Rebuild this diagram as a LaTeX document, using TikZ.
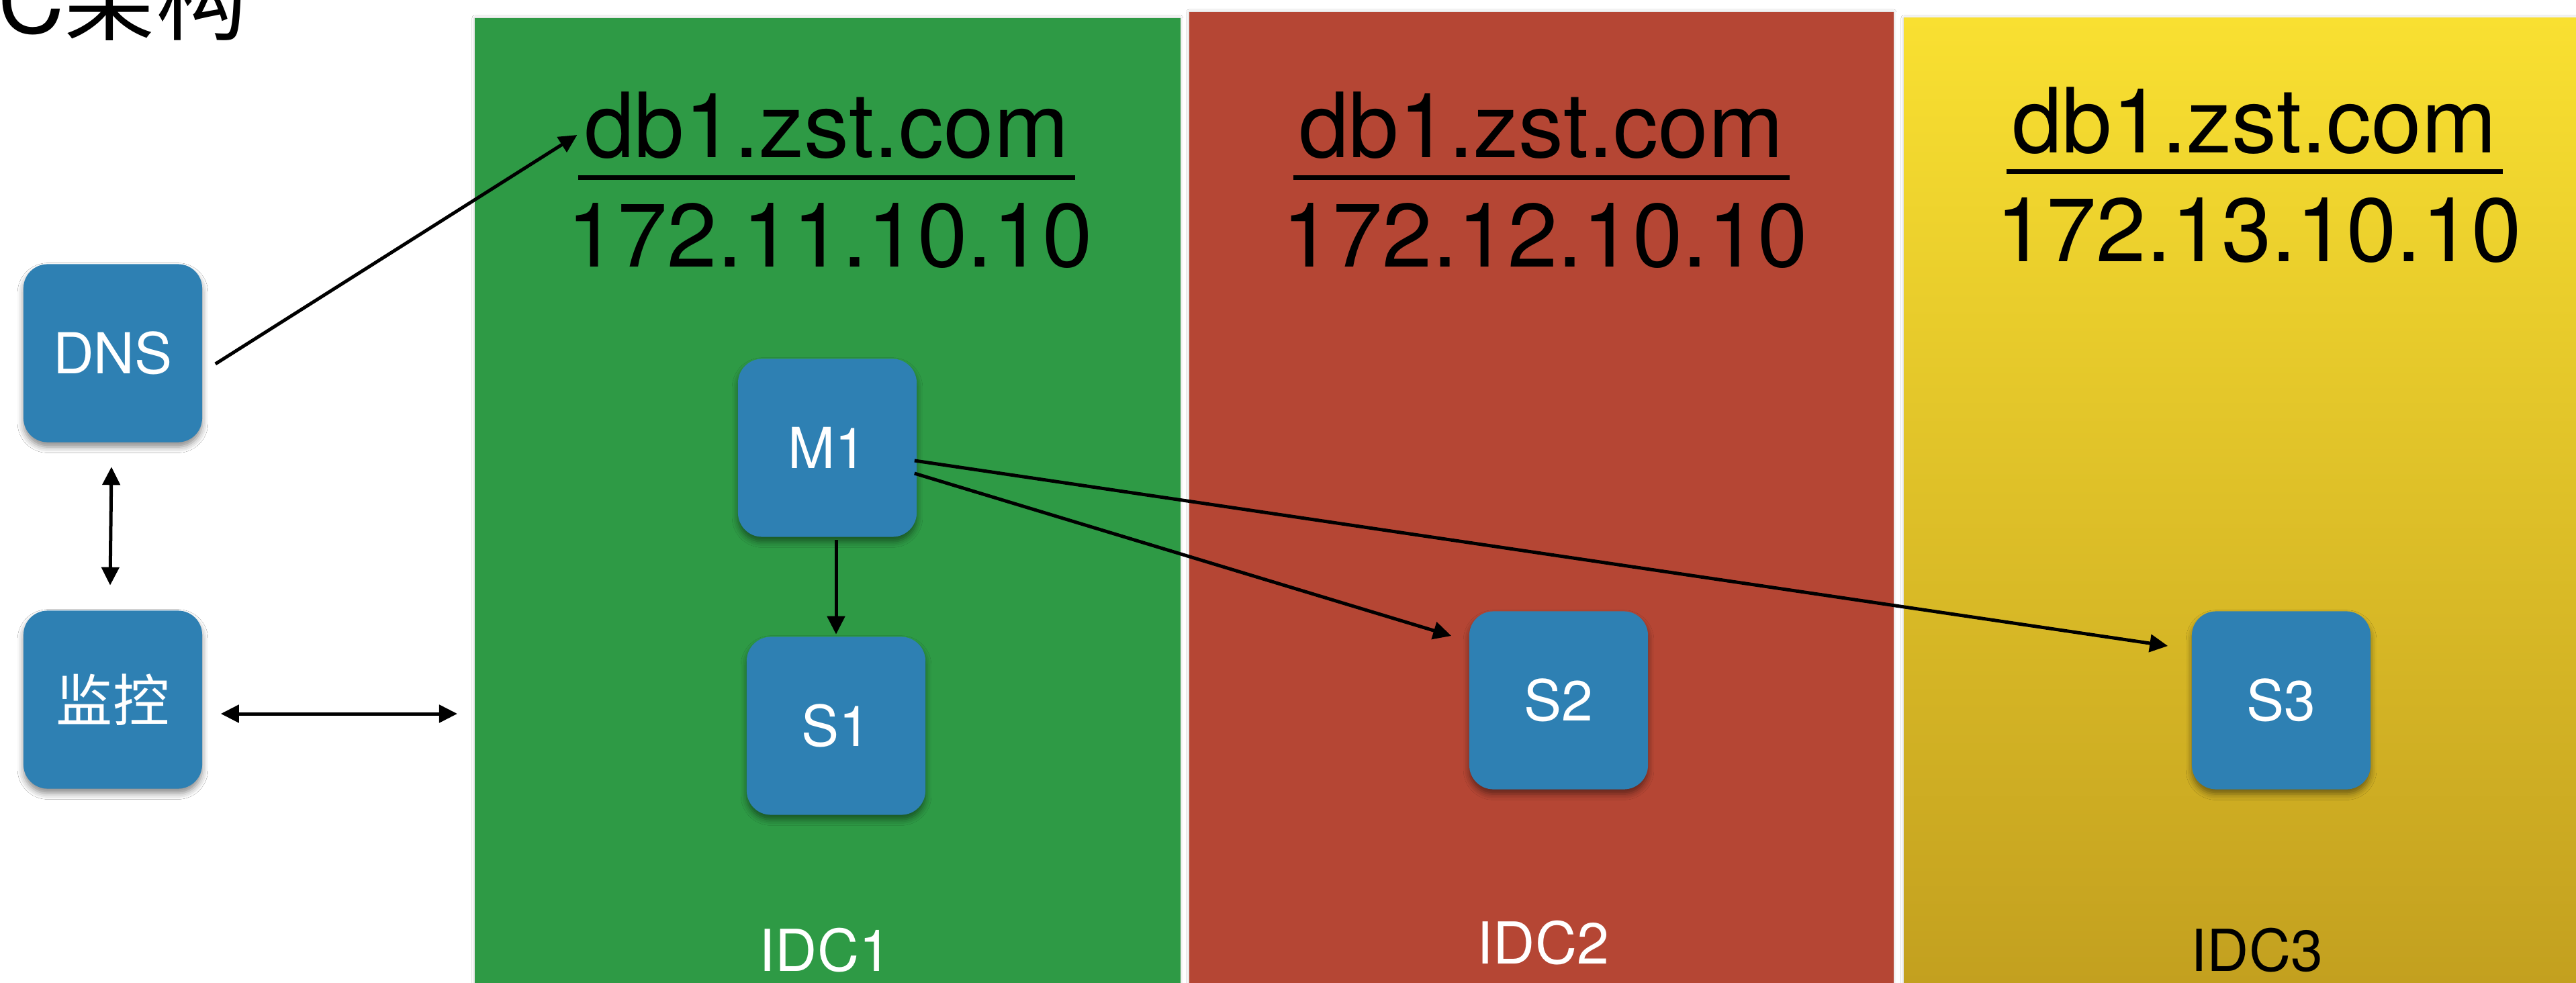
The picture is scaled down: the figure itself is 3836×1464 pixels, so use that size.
\documentclass[tikz,border=0pt]{standalone}
\usepackage{fontspec}
\setmainfont{TeX Gyre Heros}
\newfontfamily\cjk{Noto Sans CJK SC}
\usetikzlibrary{arrows.meta,shadows.blur,calc}

\definecolor{idcgreen}{HTML}{2E9A45}
\definecolor{idcred}{HTML}{B54634}
\definecolor{idcyellowtop}{HTML}{F9E031}
\definecolor{idcyellowbot}{HTML}{C3A01F}
\definecolor{nodeblue}{HTML}{2E80B3}

\begin{document}
\begin{tikzpicture}[x=0.01cm, y=-0.01cm,
  panel/.style={rectangle, draw=none, inner sep=0pt, outer sep=0pt, anchor=north west,
    blur shadow={shadow xshift=0pt, shadow yshift=0pt, shadow blur radius=1.2pt, shadow opacity=25}},
  srv/.style={rectangle, rounded corners=0.36cm, fill=nodeblue, text=white,
    minimum width=2.66cm, minimum height=2.65cm, inner sep=0pt,
    font=\fontsize{23.9}{26}\selectfont,
    blur shadow={shadow xshift=0pt, shadow yshift=-2pt, shadow blur radius=2.5pt, shadow opacity=45}},
  dnsname/.style={inner sep=0pt, anchor=base, font=\fontsize{38.1}{40}\selectfont},
  idclabel/.style={inner sep=0pt, anchor=base, font=\fontsize{24.5}{27}\selectfont},
  conn/.style={line width=0.05cm, -{Triangle[length=0.27cm,width=0.26cm]}},
  link/.style={line width=0.05cm, {Triangle[length=0.27cm,width=0.26cm]}-{Triangle[length=0.27cm,width=0.26cm]}},
  underl/.style={line width=0.07cm}
]
\useasboundingbox (0,0) rectangle (3836,1464);
\clip (0,0) rectangle (3836,1464);
\fill[white] (0,0) rectangle (3836,1464);

% title
\node[anchor=base west, inner sep=0pt, font=\fontsize{38.7}{40}\selectfont] (title) at (-3,50) {C{\cjk 架构}};

% data centre panels
\node[panel, fill=idcgreen, minimum width=10.50cm, minimum height=14.37cm] (idc1) at (707,27) {};
\node[panel, fill=idcred, minimum width=10.48cm, minimum height=14.46cm] (idc2) at (1771,18) {};
\node[panel, top color=idcyellowtop, bottom color=idcyellowbot, minimum width=10.01cm, minimum height=14.37cm] (idc3) at (2835,27) {};

% domain name and address of each data centre
\node[dnsname] (nameA) at (1231,235) {db1.zst.com};
\node[dnsname] (ipA) at (1236,398) {172.11.10.10};
\node[dnsname] (nameB) at (2295,235) {db1.zst.com};
\node[dnsname] (ipB) at (2301,398) {172.12.10.10};
\node[dnsname] (nameC) at (3357,228) {db1.zst.com};
\node[dnsname] (ipC) at (3364,390) {172.13.10.10};
\draw[underl] ($(nameA.base west)+(-8,30)$) -- ($(nameA.base east)+(8,30)$);
\draw[underl] ($(nameB.base west)+(-8,30)$) -- ($(nameB.base east)+(8,30)$);
\draw[underl] ($(nameC.base west)+(-8,28)$) -- ($(nameC.base east)+(8,28)$);

% data centre labels
\node[idclabel, text=white] (lab1) at (1229,1446) {IDC1};
\node[idclabel, text=white] (lab2) at (2298,1435) {IDC2};
\node[idclabel, text=black] (lab3) at (3361,1446) {IDC3};

% servers
\node[srv] (dns) at (168,526) {DNS};
\node[srv, font=\fontsize{23.9}{26}\selectfont\cjk] (mon) at (168,1042) {监控};
\node[srv] (m1) at (1232,667) {M1};
\node[srv] (s1) at (1245,1081) {S1};
\node[srv] (s2) at (2321,1043) {S2};
\node[srv] (s3) at (3397,1043) {S3};

% connections
\draw[conn] ($(dns.east)+(19,16)$) -- ($(nameA.base west)+(-10,-34)$);
\draw[link] ($(dns.south)+(-2,36)$) -- ($(mon.north)+(-4,-37)$);
\draw[link] ($(mon.east)+(27,21)$) -- ($(mon.east -| idc1.west)+(-26,21)$);
\draw[conn] ($(m1.south -| s1.north)+(0,4)$) -- ($(s1.north)+(0,-3)$);
\draw[conn] ($(m1.east)+(-4,38)$) -- ($(s2.west)+(-26,-96)$);
\draw[conn] ($(m1.east)+(-4,19)$) -- ($(s3.west)+(-35,-81)$);
\end{tikzpicture}
\end{document}
